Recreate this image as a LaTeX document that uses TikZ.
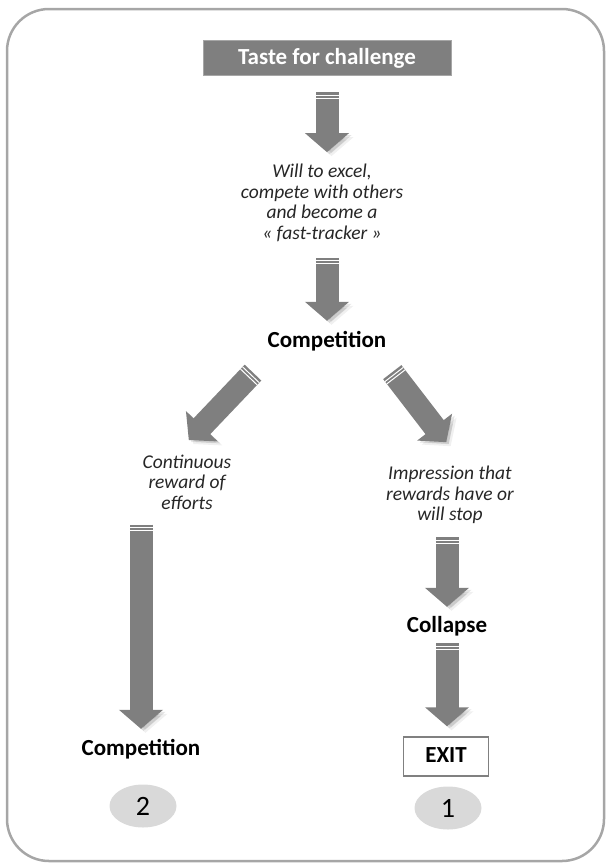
\documentclass[tikz,border=0pt]{standalone}
\usepackage{fontspec}
\setmainfont{Carlito}
\usetikzlibrary{arrows.meta,shapes.geometric}
\definecolor{arrowgray}{HTML}{7F7F7F}
\definecolor{framegray}{HTML}{A6A6A6}
\definecolor{ovalgray}{HTML}{D9D9D9}

\begin{document}
\begin{tikzpicture}[x=1pt, y=-1pt,
	label/.style={font=\fontsize{23}{26}\selectfont\bfseries, inner sep=0pt, text height=16pt, text depth=5pt},
	remark/.style={font=\fontsize{19.5}{20.5}\selectfont\itshape, text=black!85, align=center, inner sep=0pt},
	badge/.style={ellipse, fill=ovalgray, minimum width=67pt, minimum height=43pt, inner sep=0pt, font=\fontsize{28}{30}\selectfont},
	bigarrow/.style={draw=arrowgray, line width=23pt, -{Triangle[width=43pt,length=19pt]},
		preaction={draw=black, opacity=.06, transform canvas={shift={(4.5pt,-4pt)}}},
		preaction={draw=black, opacity=.10, transform canvas={shift={(2.5pt,-2pt)}}},
		postaction={draw=white, -, line width=23pt, dash pattern=on 0pt off 2.5pt on 1pt off 2pt on 1pt off 2000pt}}]
	\useasboundingbox (0,0) rectangle (608,868);
	\draw[framegray, line width=2.5pt, rounded corners=42pt] (7,9) rectangle (604,861);

	\node[fill=arrowgray, draw=gray!70, text=white, minimum width=248pt, minimum height=35pt, font=\fontsize{23}{25}\selectfont\bfseries] (taste) at (327,58) {Taste for challenge};
	\node[remark] (will) at (322,203) {Will to excel,\\ compete with others\\ and become a\\ « fast-tracker »};
	\node[label] (comp) at (327,342) {Competition};
	\node[remark] (cont) at (187,482) {Continuous\\ reward of\\ efforts};
	\node[remark] (impr) at (450,495) {Impression that\\ rewards have or\\ will stop};
	\node[label] (compl) at (141,750) {Competition};
	\node[label] (coll) at (447,627) {Collapse};
	\node[label, draw=gray, line width=1.5pt, minimum width=85pt, minimum height=39pt] (exit) at (446,756.5) {EXIT};
	\node[badge] (two) at (143,806) {2};
	\node[badge] (one) at (448,808) {1};

	\draw[bigarrow, shorten <=16.5pt, shorten >=12pt] (taste.south) -- (taste.south |- will.north);
	\draw[bigarrow, shorten <=16pt, shorten >=10.5pt] (comp.north |- will.south) -- (comp.north);
	\draw[bigarrow, shorten <=27.5pt, shorten >=20pt] (comp.191) -- ([xshift=-12pt]cont.north);
	\draw[bigarrow, shorten <=24.5pt, shorten >=30pt] (comp.-12) -- ([xshift=14.5pt]impr.north);
	\draw[bigarrow, shorten <=15pt, shorten >=10.5pt] (cont.south -| compl.north) -- (compl.north);
	\draw[bigarrow, shorten <=13pt, shorten >=9.5pt] (impr.south -| coll.north) -- (coll.north);
	\draw[bigarrow, shorten <=5.5pt, shorten >=10pt] (coll.south) -- (coll.south |- exit.north);
\end{tikzpicture}
\end{document}
